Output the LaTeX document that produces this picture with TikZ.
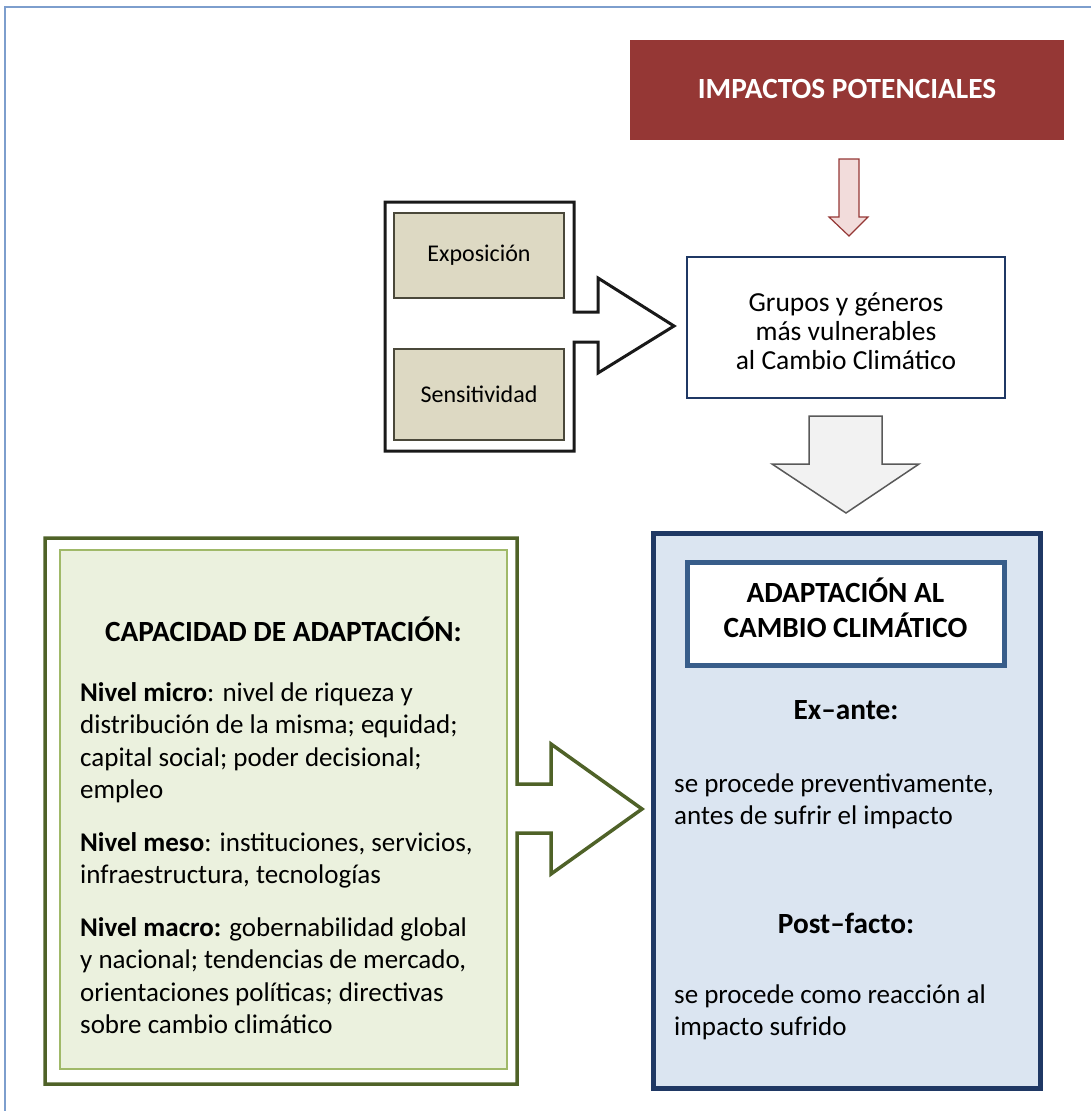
\documentclass[tikz,border=0pt]{standalone}
\usepackage{fontspec}
\setmainfont{Carlito}
\definecolor{impactred}{RGB}{149,55,53}
\definecolor{impactpink}{RGB}{242,220,219}
\definecolor{tanfill}{RGB}{221,217,195}
\definecolor{tanline}{RGB}{74,72,58}
\definecolor{navy}{RGB}{31,56,100}
\definecolor{steel}{RGB}{56,93,138}
\definecolor{bluefill}{RGB}{219,229,241}
\definecolor{olive}{RGB}{79,98,40}
\definecolor{olivefill}{RGB}{235,241,222}
\definecolor{oliveline}{RGB}{160,185,105}
\definecolor{frameblue}{RGB}{125,158,205}
\definecolor{arrowgray}{RGB}{242,242,242}
\begin{document}
\begin{tikzpicture}[x=1pt,y=-1pt]
\tikzstyle{every node}+=[inner sep=0pt]
\tikzstyle{bodytext}=[font=\fontsize{27}{32.5}\selectfont, align=left, anchor=north west]
\tikzstyle{headtext}=[font=\fontsize{29.3}{35.4}\selectfont\bfseries, align=center]
\tikzstyle{tanbox}=[draw=tanline, line width=1.5, fill=tanfill, minimum width=170, font=\fontsize{24}{29}\selectfont]
\useasboundingbox (0,0) rectangle (1091,1111);
\draw [frameblue, line width=2] (5,1111) -- (5,7) -- (1091,7);
% impactos
\node [fill=impactred, minimum width=434, minimum height=100] (impactos) at (847,90) {};
\node [headtext, text=white] (impactostext) at (847,89) {IMPACTOS POTENCIALES};
\draw [impactred, fill=impactpink, line width=1.2] (839,159) -- (859,159) -- (859,217) -- (868,217) -- (849,236) -- (829,217) -- (839,217) -- cycle;
% grupos vulnerables
\node [draw=navy, line width=2, minimum width=318, minimum height=141] (grupos) at (846,327.5) {};
\node [font=\fontsize{27.5}{29}\selectfont, align=center] (grupostext) at (846,331) {Grupos y géneros\\más vulnerables\\al Cambio Climático};
% exposicion y sensitividad
\draw [black!90, line width=3, line join=miter] (385,202) -- (574,202) -- (574,312) -- (598,312) -- (598,278) -- (674,326) -- (598,373) -- (598,342) -- (574,342) -- (574,451) -- (385,451) -- cycle;
\node [tanbox, minimum height=85] (exposicion) at (479,255.5) {Exposición};
\node [tanbox, minimum height=91] (sensitividad) at (479,394.5) {Sensitividad};
\draw [black!65, fill=arrowgray, line width=1.5] (809,416) -- (882,416) -- (882,464) -- (919,464) -- (846,513) -- (772,464) -- (809,464) -- cycle;
% capacidad de adaptacion
\draw [olive, line width=3.5, line join=miter] (45,538) -- (517,538) -- (517,784) -- (551,784) -- (551,744) -- (642,809) -- (551,874) -- (551,833) -- (517,833) -- (517,1084) -- (45,1084) -- cycle;
\node [draw=oliveline, fill=olivefill, line width=1.5, minimum width=447, minimum height=519] (capacidad) at (283.5,809.5) {};
\node [headtext] (capacidadtitle) at (283.5,629) {CAPACIDAD DE ADAPTACIÓN:};
\node [bodytext] (micro) at (80,682) {\textbf{Nivel micro}: nivel de riqueza y\\distribución de la misma; equidad;\\capital social; poder decisional;\\empleo};
\node [bodytext] (meso) at (80,832) {\textbf{Nivel meso}: instituciones, servicios,\\infraestructura, tecnologías};
\node [bodytext] (macro) at (80,917) {\textbf{Nivel macro:} gobernabilidad global\\y nacional; tendencias de mercado,\\orientaciones políticas; directivas\\sobre cambio climático};
% adaptacion al cambio climatico
\node [draw=navy, line width=5, fill=bluefill, minimum width=387, minimum height=555] (adaptacion) at (846.5,810.5) {};
\node [draw=steel, line width=5, fill=white, minimum width=317, minimum height=103] (adaptaciontitle) at (845.5,613.5) {};
\node [headtext] (adaptaciontext) at (845.5,608) {ADAPTACIÓN AL\\CAMBIO CLIMÁTICO};
\node [headtext] (exante) at (846,710) {Ex–ante:};
\node [bodytext, font=\fontsize{27}{32}\selectfont] (exantetext) at (674,774) {se procede preventivamente,\\antes de sufrir el impacto};
\node [headtext] (postfacto) at (846,923) {Post–facto:};
\node [bodytext, font=\fontsize{27}{32}\selectfont] (postfactotext) at (674,985) {se procede como reacción al\\impacto sufrido};
\end{tikzpicture}
\end{document}
